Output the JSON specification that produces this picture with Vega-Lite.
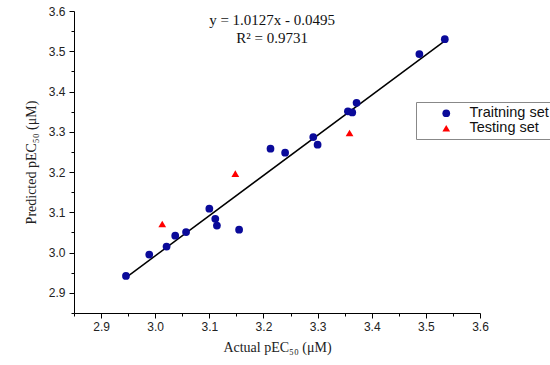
{
  "$schema": "https://vega.github.io/schema/vega-lite/v6.json",
  "autosize": {"type": "none"},
  "width": 406,
  "height": 302,
  "padding": {"left": 74, "top": 11, "right": 70, "bottom": 52},
  "background": "white",
  "config": {
    "view": {"stroke": null},
    "axis": {"grid": false, "domainColor": "black", "tickColor": "black", "labelFont": "Liberation Sans", "labelFontSize": 12, "labelColor": "#222", "titleFont": "Liberation Serif", "titleFontSize": 14, "titleFontWeight": "normal", "titleColor": "#222"}
  },
  "resolve": {"axis": {"x": "independent", "y": "independent"}},
  "layer": [
    {
      "data": {"values": [{"x": 2.946, "y": 2.938}, {"x": 3.535, "y": 3.526}]},
      "mark": {"type": "line", "color": "black", "strokeWidth": 1.5},
      "encoding": {
        "x": {"field": "x", "type": "quantitative", "scale": {"domain": [2.85, 3.6], "nice": false, "zero": false},
          "axis": {"title": "Actual pEC₅₀ (μM)", "orient": "bottom", "values": [2.9, 3.0, 3.1, 3.2, 3.3, 3.4, 3.5, 3.6], "format": ".1f",
            "tickSize": 5, "labelPadding": 3, "titlePadding": 8, "labelFlush": false, "labelOverlap": false}},
        "y": {"field": "y", "type": "quantitative", "scale": {"domain": [2.85, 3.6], "nice": false, "zero": false},
          "axis": {"title": "Predicted pEC₅₀ (μM)", "orient": "left", "values": [2.9, 3.0, 3.1, 3.2, 3.3, 3.4, 3.5, 3.6], "format": ".1f",
            "tickSize": 5, "labelPadding": 4, "titlePadding": 10, "labelFlush": false, "labelOverlap": false}}
      }
    },
    {
      "data": {"values": [
        {"set": "Traitning set", "actual": 2.946, "pred": 2.942},
        {"set": "Traitning set", "actual": 2.989, "pred": 2.995},
        {"set": "Traitning set", "actual": 3.021, "pred": 3.015},
        {"set": "Traitning set", "actual": 3.037, "pred": 3.042},
        {"set": "Traitning set", "actual": 3.057, "pred": 3.051},
        {"set": "Traitning set", "actual": 3.100, "pred": 3.109},
        {"set": "Traitning set", "actual": 3.111, "pred": 3.084},
        {"set": "Traitning set", "actual": 3.114, "pred": 3.067},
        {"set": "Traitning set", "actual": 3.155, "pred": 3.057},
        {"set": "Traitning set", "actual": 3.213, "pred": 3.258},
        {"set": "Traitning set", "actual": 3.240, "pred": 3.248},
        {"set": "Traitning set", "actual": 3.292, "pred": 3.287},
        {"set": "Traitning set", "actual": 3.300, "pred": 3.268},
        {"set": "Traitning set", "actual": 3.356, "pred": 3.351},
        {"set": "Traitning set", "actual": 3.364, "pred": 3.348},
        {"set": "Traitning set", "actual": 3.372, "pred": 3.372},
        {"set": "Traitning set", "actual": 3.488, "pred": 3.493},
        {"set": "Traitning set", "actual": 3.535, "pred": 3.530},
        {"set": "Testing set", "actual": 3.013, "pred": 3.071},
        {"set": "Testing set", "actual": 3.148, "pred": 3.196},
        {"set": "Testing set", "actual": 3.359, "pred": 3.297}
      ]},
      "mark": {"type": "point", "filled": true, "opacity": 1, "size": 60},
      "encoding": {
        "x": {"field": "actual", "type": "quantitative",
          "axis": {"title": null, "orient": "bottom", "values": [2.85, 2.95, 3.05, 3.15, 3.25, 3.35, 3.45, 3.55], "labels": false, "domain": false, "tickSize": 3, "offset": 0}},
        "y": {"field": "pred", "type": "quantitative",
          "axis": {"title": null, "orient": "left", "values": [2.85, 2.95, 3.05, 3.15, 3.25, 3.35, 3.45, 3.55], "labels": false, "domain": false, "tickSize": 3, "offset": 0}},
        "color": {"field": "set", "type": "nominal", "scale": {"domain": ["Traitning set", "Testing set"], "range": ["#0a0a9a", "#ff0000"]},
          "legend": {"title": "M", "titleOrient": "left", "titleOpacity": 0, "titleFont": "Liberation Sans", "titleFontSize": 10, "titlePadding": 10,
            "orient": "none", "legendX": 342, "legendY": 91, "strokeColor": "#888", "fillColor": "white", "padding": 4, "labelFont": "Liberation Sans", "labelFontSize": 14.5, "labelColor": "#111", "symbolSize": 60, "rowPadding": 0, "labelOffset": 16, "labelLimit": 200}},
        "shape": {"field": "set", "type": "nominal", "scale": {"domain": ["Traitning set", "Testing set"], "range": ["circle", "triangle-up"]}}
      }
    },
    {
      "data": {"values": [
        {"label": "y = 1.0127x - 0.0495", "x": 3.216, "y": 3.578},
        {"label": "R² = 0.9731", "x": 3.216, "y": 3.533}
      ]},
      "mark": {"type": "text", "font": "Liberation Serif", "fontSize": 15, "color": "#111", "align": "center", "baseline": "middle"},
      "encoding": {
        "x": {"field": "x", "type": "quantitative", "axis": null},
        "y": {"field": "y", "type": "quantitative", "axis": null},
        "text": {"field": "label"}
      }
    }
  ]
}
